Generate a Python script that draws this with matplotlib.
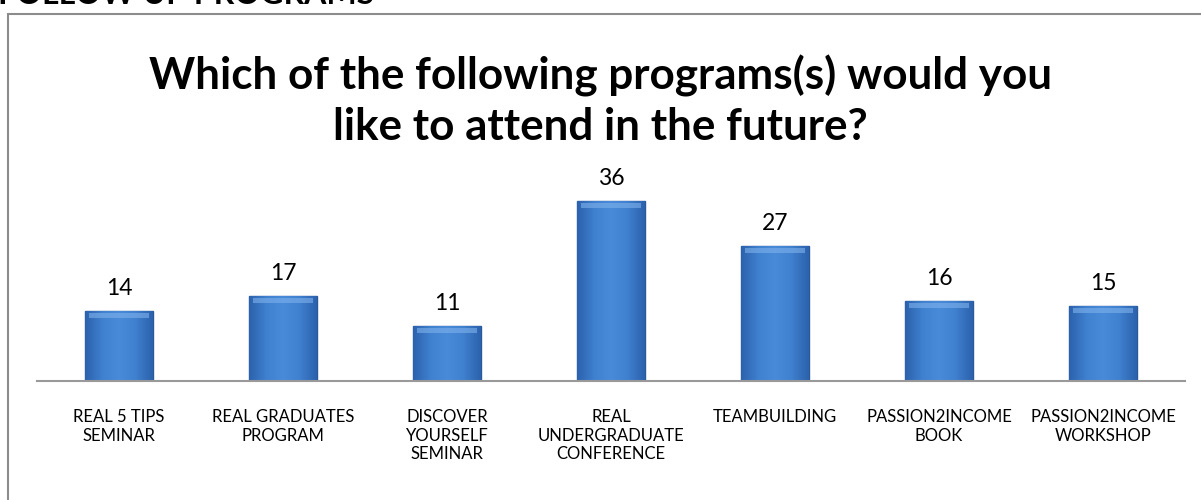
import matplotlib
matplotlib.use("Agg")
import numpy as np
import matplotlib.pyplot as plt
from matplotlib.patches import Rectangle
from matplotlib.colors import LinearSegmentedColormap

# 数据
categories = [
    "REAL 5 TIPS\nSEMINAR",
    "REAL GRADUATES\nPROGRAM",
    "DISCOVER\nYOURSELF\nSEMINAR",
    "REAL\nUNDERGRADUATE\nCONFERENCE",
    "TEAMBUILDING",
    "PASSION2INCOME\nBOOK",
    "PASSION2INCOME\nWORKSHOP",
]
values = [14, 17, 11, 36, 27, 16, 15]
title = "Which of the following programs(s) would you\nlike to attend in the future?"
heading = "FOLLOW UP PROGRAMS"

font = "Lato"

fig = plt.figure(figsize=(12.01, 5.0), dpi=100)

# 外框
fig.patches.append(Rectangle((8 / 1201, -0.1), 1.2, 1.1 - 14 / 500,
                             transform=fig.transFigure, fill=False,
                             edgecolor="#8c8c8c", linewidth=1.5))
# 被截断的标题
fig.text(-0.002, 1 - 4 / 500, heading, fontsize=23, fontweight="bold",
         fontname=font, ha="left", va="baseline")

ax = fig.add_axes([37 / 1201, 1 - 381 / 500, 1148 / 1201, 200 / 500])
x = range(len(values))
bars = ax.bar(x, values, width=0.41, color="#3b7bcb", edgecolor="#2a5a98",
              linewidth=1.0, zorder=3)

# 柱子渐变效果
cmap = LinearSegmentedColormap.from_list(
    "bev", ["#2c62ad", "#3f80cf", "#4a8bd9", "#3f80cf", "#2c62ad"])
grad = np.linspace(0, 1, 64).reshape(1, -1)
for b in bars:
    x0, y0 = b.get_x(), b.get_y()
    w, h = b.get_width(), b.get_height()
    im = ax.imshow(grad, extent=[x0, x0 + w, y0, y0 + h], aspect="auto",
                   cmap=cmap, zorder=3.5, origin="lower")
    im.set_clip_path(b)
    # 顶部高光
    ax.add_patch(Rectangle((x0 + w * 0.06, y0 + h - 1.3), w * 0.88, 0.9,
                           facecolor="#7fb2ec", edgecolor="none", alpha=0.6,
                           zorder=3.6))

for i, v in enumerate(values):
    ax.annotate(str(v), (i, v), xytext=(0, 11.5), textcoords="offset points",
                ha="center", va="baseline", fontsize=16.5, fontname=font)

ax.set_xlim(-0.5, len(values) - 0.5)
ax.set_ylim(0, 40)
ax.set_xticks(list(x))
ax.set_xticklabels(categories, fontsize=12, fontname=font, linespacing=1.22,
                   va="top")
ax.tick_params(axis="x", length=0, pad=20)
ax.set_yticks([])
for s in ["top", "right", "left"]:
    ax.spines[s].set_visible(False)
ax.spines["bottom"].set_color("#999999")
ax.spines["bottom"].set_linewidth(1.5)
ax.spines["bottom"].set_zorder(4)

fig.text(0.5, 1 - 101 / 500, title, ha="center", va="center", fontsize=31.7,
         fontweight="bold", fontname=font, linespacing=1.3)

fig.savefig("out.png", dpi=100)
